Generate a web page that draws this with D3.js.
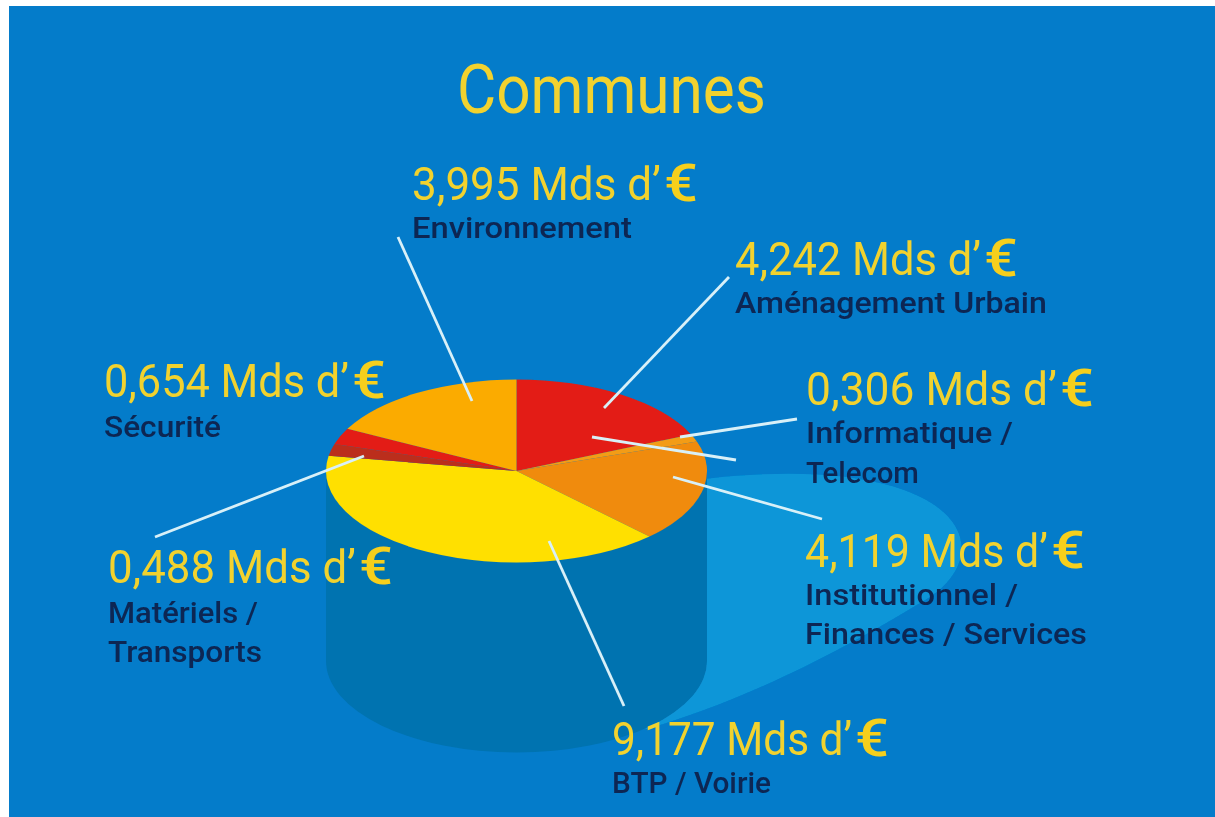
<!DOCTYPE html>
<html>
<head>
<meta charset="utf-8">
<script src="https://cdn.jsdelivr.net/npm/d3@7"></script>
<style>
  html, body { margin: 0; padding: 0; background: #fff; }
  svg { display: block; }
  text { font-family: Roboto, sans-serif; }
</style>
</head>
<body>
<svg id="chart" width="1215" height="817"></svg>
<script>
// Data, clockwise from 12 o'clock
const chartTitle = "Communes";
const categories = ["Aménagement Urbain", "Informatique / Telecom", "Institutionnel / Finances / Services", "BTP / Voirie", "Matériels / Transports", "Sécurité", "Environnement"];
const values = [4.242, 0.306, 4.119, 9.177, 0.488, 0.654, 3.995];
const categoryLines = [["Aménagement Urbain"], ["Informatique /", "Telecom"], ["Institutionnel /", "Finances / Services"], ["BTP / Voirie"], ["Matériels /", "Transports"], ["Sécurité"], ["Environnement"]];
const unitLabel = "Mds d’";
const currencyLabel = "€";

// Layout of the annotations, same order as categories
const sliceColors = ["#e31f13", "#f39c12", "#f08b0c", "#ffe000", "#bb2f1c", "#e31f13", "#fbab00"];
const labelLayout = [
  {x: 735, y: 275, w: 283, lineY: [313], lineW: [312]},
  {x: 806, y: 405, w: 288, lineY: [443, 483], lineW: [207, 113]},
  {x: 805, y: 567, w: 280, lineY: [605, 644], lineW: [213, 282]},
  {x: 612, y: 755, w: 277, lineY: [793], lineW: [159]},
  {x: 108, y: 583, w: 285, lineY: [623, 662], lineW: [150, 154]},
  {x: 104, y: 397, w: 282, lineY: [437], lineW: [117]},
  {x: 412, y: 200, w: 286, lineY: [238], lineW: [220]}
];
const leaders = [
  [729, 277, 604, 408],
  [797, 419, 680, 437],
  [822, 519, 673, 477],
  [624, 706, 549, 541],
  [155, 537, 364, 456],
  [398, 237, 472, 401],
  [736, 460, 592, 437]
];

const svg = d3.select("#chart");
const cx = 516.5, cy = 471, rx = 190.5, ry = 91.5, depth = 190;
const euroW = 34;

const defs = svg.append("defs");
defs.append("filter").attr("id", "soft")
  .attr("x", "-5%").attr("y", "-5%").attr("width", "110%").attr("height", "110%")
  .append("feGaussianBlur").attr("stdDeviation", 0.7);

// Background, white strip left and top like the scan
svg.append("rect")
  .attr("x", 9).attr("y", 6)
  .attr("width", 1206).attr("height", 811)
  .attr("fill", "#047cca");

const g = svg.append("g").attr("filter", "url(#soft)");

// Cast shadow
g.append("path")
  .attr("d", `M${cx + 170},${cy + 10}
    C${cx + 245},${cy} ${cx + 335},${cy - 3} ${cx + 395},${cy + 22}
    C${cx + 458},${cy + 48} ${cx + 458},${cy + 95} ${cx + 415},${cy + 125}
    C${cx + 350},${cy + 165} ${cx + 245},${cy + 225} ${cx + 130},${cy + 258}
    L${cx + 85},${cy + 230} Z`)
  .attr("fill", "#0a96d8");

// Cylinder body
g.append("path")
  .attr("d", `M${cx - rx},${cy} L${cx - rx},${cy + depth}
    A${rx},${ry} 0 0 0 ${cx + rx},${cy + depth}
    L${cx + rx},${cy} Z`)
  .attr("fill", "#0673b0");

// Pie top, flattened from a circular arc
const pie = d3.pie().sort(null)(values);
const arc = d3.arc().innerRadius(0).outerRadius(rx);
g.append("g")
  .attr("transform", `translate(${cx},${cy}) scale(1,${ry / rx})`)
  .selectAll("path")
  .data(pie)
  .join("path")
    .attr("d", arc)
    .attr("fill", (d, i) => sliceColors[i]);

// Leader lines
g.selectAll("line.leader")
  .data(leaders)
  .join("line")
    .attr("class", "leader")
    .attr("x1", d => d[0]).attr("y1", d => d[1])
    .attr("x2", d => d[2]).attr("y2", d => d[3])
    .attr("stroke", "#d8f0f8")
    .attr("stroke-width", 2.8);

// Squeeze a text horizontally to the width it has in the original
function addText(str, x, y, width, size, weight, color) {
  const t = g.append("text")
    .attr("font-size", size)
    .attr("font-weight", weight)
    .attr("fill", color)
    .text(str);
  const sx = width / t.node().getComputedTextLength();
  t.attr("transform", `translate(${x},${y}) scale(${sx},1)`);
  return t;
}

// Title
addText(chartTitle, 457, 113, 309, 68, 400, "#f2d22e");

// Value and category labels
const fmt = d3.formatLocale({decimal: ",", thousands: " ", grouping: [3], currency: ["", "€"]}).format(".3f");
categories.forEach((c, i) => {
  const l = labelLayout[i];
  addText(`${fmt(values[i])} ${unitLabel}`, l.x, l.y, l.w - euroW - 3, 46, 400, "#f2d22e");
  // the euro sign is bigger and heavier in the original
  addText(currencyLabel, l.x + l.w - euroW, l.y + 1, euroW, 52, 500, "#f6cf1c");

  categoryLines[i].forEach((line, j) => {
    addText(line, l.x, l.lineY[j], l.lineW[j], 30, 500, "#0a2552");
  });
});
</script>
</body>
</html>
